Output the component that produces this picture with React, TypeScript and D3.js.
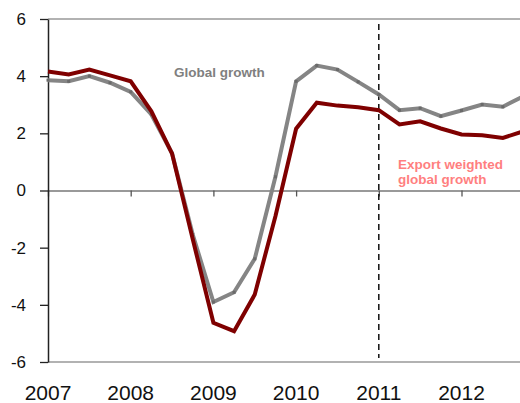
import * as d3 from "d3";
import React, { useEffect, useRef } from "react";

// quarterly observations, 2007Q1 .. 2012Q4
const quarters = [
  2007.0, 2007.25, 2007.5, 2007.75,
  2008.0, 2008.25, 2008.5, 2008.75,
  2009.0, 2009.25, 2009.5, 2009.75,
  2010.0, 2010.25, 2010.5, 2010.75,
  2011.0, 2011.25, 2011.5, 2011.75,
  2012.0, 2012.25, 2012.5, 2012.75,
];

const globalGrowth = [
  3.86, 3.82, 4.0, 3.77, 3.45, 2.66, 1.3, -1.54,
  -3.9, -3.56, -2.39, 0.48, 3.82, 4.37, 4.23, 3.8,
  3.36, 2.81, 2.88, 2.6, 2.8, 3.01, 2.93, 3.3,
];

const exportWeighted = [
  4.16, 4.06, 4.23, 4.03, 3.82, 2.77, 1.29, -1.7,
  -4.63, -4.92, -3.64, -0.9, 2.16, 3.07, 2.97, 2.91,
  2.81, 2.31, 2.42, 2.17, 1.96, 1.93, 1.84, 2.07,
];

const yearTicks = [2007, 2008, 2009, 2010, 2011, 2012];
const yTicks = [-6, -4, -2, 0, 2, 4, 6];
const forecastStart = 2011;

const GrowthChart = () => {
  const svgRef = useRef<SVGSVGElement>(null);

  useEffect(() => {
    const width = 520;
    const height = 403;
    const left = 48;
    const top = 19;
    const bottom = 362;
    const font = "Liberation Sans, Arial, sans-serif";

    const x = d3.scaleLinear([2007, 2013], [left, left + 6 * 82.7]);
    const y = d3.scaleLinear([-6, 6], [bottom, top]);

    const svg = d3.select(svgRef.current);
    svg.selectAll("*").remove();
    svg.attr("width", width).attr("height", height).attr("viewBox", [0, 0, width, height]);

    // frame lines (top & bottom)
    for (const v of [6, -6]) {
      svg.append("line")
        .attr("x1", left).attr("x2", width)
        .attr("y1", y(v)).attr("y2", y(v))
        .attr("stroke", "#999").attr("stroke-width", 1.5);
    }

    // x axis on the zero line
    const xAxis = d3.axisBottom(x)
      .tickValues(yearTicks)
      .tickSize(6)
      .tickSizeOuter(0)
      .tickFormat(() => "");
    svg.append("g")
      .attr("transform", `translate(0, ${y(0)})`)
      .call(xAxis)
      .call((g) => {
        g.select(".domain").attr("stroke", "#777").attr("stroke-width", 1.3);
        g.selectAll(".tick line").attr("stroke", "#555").attr("stroke-width", 1.3);
      });

    // year labels along the bottom
    svg.append("g")
      .selectAll("text")
      .data(yearTicks)
      .join("text")
      .attr("x", (d) => x(d))
      .attr("y", 400)
      .attr("text-anchor", "middle")
      .attr("font-family", font)
      .attr("font-size", 21)
      .attr("fill", "#111")
      .text((d) => d);

    // y axis
    const yAxis = d3.axisLeft(y)
      .tickValues(yTicks)
      .tickSize(8)
      .tickSizeOuter(0)
      .tickPadding(14)
      .tickFormat((d) => `${d}`); // plain hyphen, not the unicode minus
    svg.append("g")
      .attr("transform", `translate(${left}, 0)`)
      .call(yAxis)
      .call((g) => {
        g.select(".domain").attr("stroke", "#222").attr("stroke-width", 1.5);
        g.selectAll(".tick line").attr("stroke", "#222").attr("stroke-width", 1.3);
        g.selectAll(".tick text")
          .attr("font-family", font)
          .attr("font-size", 17)
          .attr("fill", "#111");
      });

    // forecast divider
    svg.append("line")
      .attr("x1", x(forecastStart)).attr("x2", x(forecastStart))
      .attr("y1", 24).attr("y2", 358)
      .attr("stroke", "#111").attr("stroke-width", 1.5)
      .attr("stroke-dasharray", "6,4");

    const line = d3.line<number>()
      .x((_, i) => x(quarters[i]))
      .y((d) => y(d));

    svg.append("path")
      .datum(globalGrowth)
      .attr("fill", "none")
      .attr("stroke", "#858585")
      .attr("stroke-width", 4)
      .attr("stroke-linejoin", "miter")
      .attr("d", line);

    svg.append("g")
      .selectAll("rect")
      .data(globalGrowth)
      .join("rect")
      .attr("x", (_, i) => x(quarters[i]) - 1.5)
      .attr("y", (d) => y(d) - 1.5)
      .attr("width", 3)
      .attr("height", 3)
      .attr("fill", "#6a6a6a");

    svg.append("path")
      .datum(exportWeighted)
      .attr("fill", "none")
      .attr("stroke", "#7f0000")
      .attr("stroke-width", 4)
      .attr("stroke-linejoin", "miter")
      .attr("d", line);

    // labels
    svg.append("text")
      .attr("x", 174).attr("y", 77)
      .attr("font-family", font)
      .attr("font-size", 13.5).attr("font-weight", "bold")
      .attr("fill", "#808080")
      .text("Global growth");

    const exp = svg.append("text")
      .attr("font-family", font)
      .attr("font-size", 13.5).attr("font-weight", "bold")
      .attr("fill", "#ff7f7f");
    exp.append("tspan").attr("x", 398).attr("y", 169).text("Export weighted");
    exp.append("tspan").attr("x", 398).attr("y", 184).text("global growth");
  }, []);

  return <svg ref={svgRef} style={{ position: "absolute", left: 0, top: 0 }} />;
};

export default function App() {
  return <GrowthChart />;
}
